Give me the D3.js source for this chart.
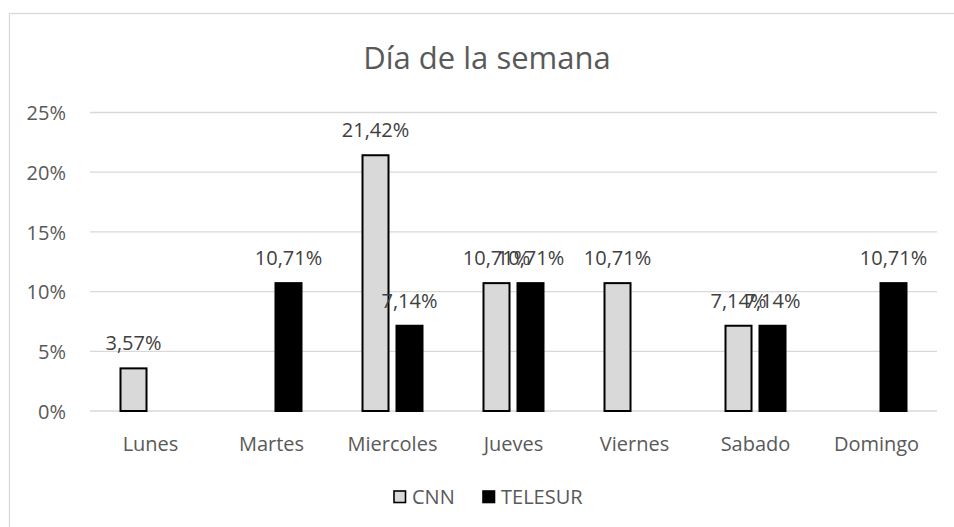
<!DOCTYPE html>
<html>
<head>
<meta charset="utf-8">
<script src="https://cdn.jsdelivr.net/npm/d3@7"></script>
<style>
  html, body { margin: 0; padding: 0; background: #fff; }
  svg { display: block; font-family: "Open Sans", sans-serif; }
</style>
</head>
<body>
<svg id="chart" width="954" height="527"></svg>
<script>
const title = "Día de la semana";
const categories = ["Lunes", "Martes", "Miercoles", "Jueves", "Viernes", "Sabado", "Domingo"];
const seriesNames = ["CNN", "TELESUR"];
const cnnValues = [3.57, null, 21.42, 10.71, 10.71, 7.14, null];
const telesurValues = [null, 10.71, 7.14, 10.71, null, 7.14, 10.71];
const yTicks = [0, 5, 10, 15, 20, 25];
const yTickLabels = ["0%", "5%", "10%", "15%", "20%", "25%"];

const seriesValues = [cnnValues, telesurValues];
const fills = ["#d9d9d9", "#000000"];

const svg = d3.select("#chart");
const W = 954, H = 527;
const plot = { left: 90, right: 937, top: 112.5, bottom: 411 };

const locale = d3.formatLocale({ decimal: ",", thousands: ".", grouping: [3], currency: ["", "€"] });
const fmt = v => locale.format(".2f")(v) + "%";

// chart frame
svg.append("rect")
  .attr("x", 9.5).attr("y", 13.5)
  .attr("width", W + 10).attr("height", H + 10)
  .attr("fill", "#fff").attr("stroke", "#d9d9d9").attr("stroke-width", 1.3);

const x0 = d3.scaleBand().domain(categories).range([plot.left, plot.right]).padding(0);
const groupW = 62;
const x1 = d3.scaleBand().domain(seriesNames)
  .range([(x0.bandwidth() - groupW) / 2, (x0.bandwidth() + groupW) / 2])
  .paddingInner(0.176).paddingOuter(0);
const y = d3.scaleLinear().domain([0, 25]).range([plot.bottom, plot.top]);

// gridlines
svg.append("g").selectAll("line").data(yTicks).join("line")
  .attr("x1", plot.left).attr("x2", plot.right)
  .attr("y1", d => y(d)).attr("y2", d => y(d))
  .attr("stroke", "#d9d9d9").attr("stroke-width", 1.3);

// y tick labels
const yAxis = d3.axisLeft(y).tickValues(yTicks).tickFormat((d, i) => yTickLabels[i]).tickSize(0).tickPadding(0);
const yg = svg.append("g").attr("transform", `translate(66,0)`).call(yAxis);
yg.select(".domain").remove();
yg.selectAll("text").attr("font-family", "Open Sans").attr("font-size", 20).attr("fill", "#595959").attr("dy", "0.36em");

// x tick labels
const xAxis = d3.axisBottom(x0).tickSize(0).tickPadding(0);
const xg = svg.append("g").attr("transform", `translate(0,${plot.bottom})`).call(xAxis);
xg.select(".domain").remove();
xg.selectAll("text").attr("font-family", "Open Sans").attr("font-size", 20).attr("fill", "#595959")
  .attr("dy", null).attr("y", 40);

// bars
const rows = [];
categories.forEach((c, i) => {
  seriesNames.forEach((s, j) => {
    const v = seriesValues[j][i];
    if (v != null) rows.push({ cat: c, series: s, value: v, j });
  });
});

svg.append("g").selectAll("rect").data(rows).join("rect")
  .attr("x", d => x0(d.cat) + x1(d.series) + 1)
  .attr("width", x1.bandwidth() - 2)
  .attr("y", d => y(d.value))
  .attr("height", d => y(0) - y(d.value))
  .attr("fill", d => fills[d.j])
  .attr("stroke", "#000").attr("stroke-width", 2);

// data labels
svg.append("g").selectAll("text").data(rows).join("text")
  .attr("x", d => x0(d.cat) + x1(d.series) + x1.bandwidth() / 2)
  .attr("y", d => y(d.value) - 18)
  .attr("text-anchor", "middle")
  .attr("font-size", 20).attr("fill", "#404040")
  .text(d => fmt(d.value));

// title
svg.append("text").attr("x", 487).attr("y", 69).attr("text-anchor", "middle")
  .attr("font-size", 31).attr("fill", "#595959").text(title);

// legend
const legendX = [393, 482];
const lg = svg.append("g").selectAll("g").data(seriesNames).join("g")
  .attr("transform", (d, i) => `translate(${legendX[i]},490)`);
lg.append("rect").attr("x", 1).attr("y", 1).attr("width", 11.5).attr("height", 11.5)
  .attr("fill", (d, i) => fills[i]).attr("stroke", "#000").attr("stroke-width", 1.6);
lg.append("text").attr("x", 19).attr("y", 13.5)
  .attr("font-size", 20).attr("fill", "#595959").text(d => d);
</script>
</body>
</html>
